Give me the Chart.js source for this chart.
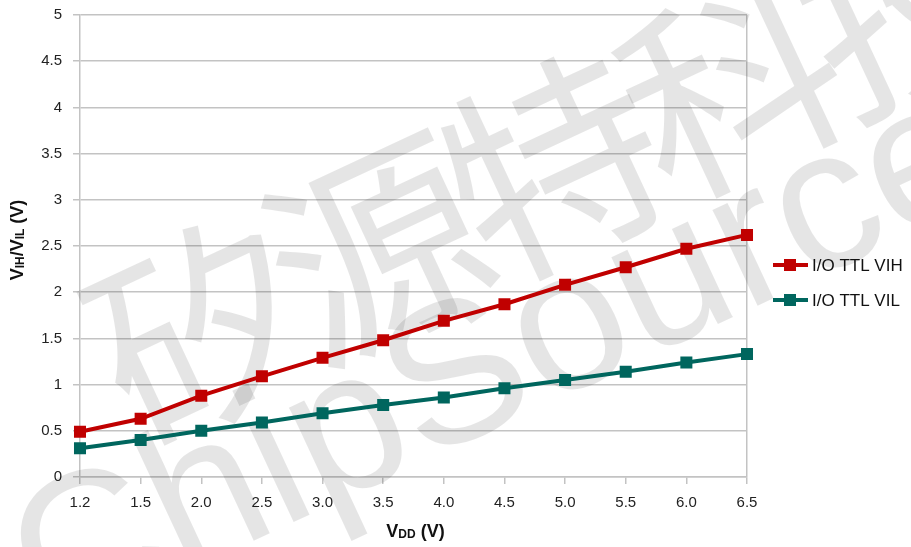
<!DOCTYPE html>
<html>
<head>
<meta charset="utf-8">
<script src="https://cdn.jsdelivr.net/npm/chart.js@4.4.1/dist/chart.umd.min.js"></script>
<style>
    html, body { margin: 0; padding: 0; background: #fff; }
    #wrap { width: 911px; height: 547px; }
</style>
</head>
<body>
<div id="wrap"><canvas id="myChart" width="911" height="547"></canvas></div>
<script>
var vdd = ["1.2", "1.5", "2.0", "2.5", "3.0", "3.5", "4.0", "4.5", "5.0", "5.5", "6.0", "6.5"];
var vih = [0.49, 0.63, 0.88, 1.09, 1.29, 1.48, 1.69, 1.87, 2.08, 2.27, 2.47, 2.62];
var vil = [0.31, 0.40, 0.50, 0.59, 0.69, 0.78, 0.86, 0.96, 1.05, 1.14, 1.24, 1.33];
var seriesNames = ["I/O TTL VIH", "I/O TTL VIL"];
var seriesColors = ["#c00000", "#00665e"];

var gridColor = "#c3c3c3";
var FONT = "'Liberation Sans', Arial, sans-serif";

// draws runs of [text, isSub] centred on (0,0) of the current transform
function drawRuns(ctx, runs, size){
    var subSize = Math.round(size * 0.66);
    var total = 0;
    runs.forEach(function(r){
        ctx.font = "bold " + (r[1] ? subSize : size) + "px " + FONT;
        total += ctx.measureText(r[0]).width;
    });
    var x = -total / 2;
    runs.forEach(function(r){
        ctx.font = "bold " + (r[1] ? subSize : size) + "px " + FONT;
        ctx.fillText(r[0], x, r[1] ? 3 : 0);
        x += ctx.measureText(r[0]).width;
    });
}

var watermark = {
    id: "watermark",
    beforeDatasetsDraw: function(chart){
        var ctx = chart.ctx;
        ctx.save();
        ctx.fillStyle = "rgba(0,0,0,0.1)";
        ctx.textAlign = "center";
        ctx.textBaseline = "middle";
        ctx.translate(545, 170);
        ctx.rotate(-25 * Math.PI / 180);
        ctx.font = "215px 'Noto Sans CJK SC'";
        ctx.letterSpacing = "-20px";
        ctx.fillText("矽源特科技", 0, 0);
        ctx.restore();

        ctx.save();
        ctx.fillStyle = "rgba(0,0,0,0.1)";
        ctx.textAlign = "center";
        ctx.textBaseline = "middle";
        ctx.translate(500, 365);
        ctx.rotate(-25 * Math.PI / 180);
        ctx.font = "200px " + FONT;
        ctx.fillText("ChipSource", 0, 0);
        ctx.restore();
    }
};

var extras = {
    id: "extras",
    afterDraw: function(chart){
        var ctx = chart.ctx;
        var area = chart.chartArea;
        ctx.save();
        ctx.fillStyle = "#111";
        ctx.textBaseline = "middle";

        // axis titles with subscripts
        ctx.save();
        ctx.translate(18, (area.top + area.bottom) / 2 - 6);
        ctx.rotate(-Math.PI / 2);
        drawRuns(ctx, [["V", false], ["IH", true], ["/V", false], ["IL", true], [" (V)", false]], 18);
        ctx.restore();

        ctx.save();
        ctx.translate((area.left + area.right) / 2 + 2, 532);
        drawRuns(ctx, [["V", false], ["DD", true], [" (V)", false]], 18);
        ctx.restore();

        // legend
        var lx = area.right + 26;
        var ly = [265, 300];
        chart.data.datasets.forEach(function(ds, i){
            ctx.strokeStyle = ds.borderColor;
            ctx.lineWidth = 4;
            ctx.beginPath();
            ctx.moveTo(lx, ly[i]);
            ctx.lineTo(lx + 35, ly[i]);
            ctx.stroke();
            ctx.fillStyle = ds.borderColor;
            ctx.fillRect(lx + 11, ly[i] - 6, 12, 12);
            ctx.fillStyle = "#111";
            ctx.font = "17px " + FONT;
            ctx.textAlign = "left";
            ctx.fillText(ds.label, lx + 39, ly[i] + 1);
        });
        ctx.restore();
    }
};

function makeSet(i, values){
    return {
        label: seriesNames[i],
        data: values,
        borderColor: seriesColors[i],
        backgroundColor: seriesColors[i],
        borderWidth: 4,
        tension: 0,
        pointStyle: "rect",
        pointRadius: 8.5,
        pointBorderWidth: 0,
        pointBackgroundColor: seriesColors[i]
    };
}

new Chart(document.getElementById("myChart"), {
    type: "line",
    data: {
        labels: vdd,
        datasets: [makeSet(0, vih), makeSet(1, vil)]
    },
    options: {
        responsive: false,
        animation: false,
        layout: { padding: { top: 15, right: 164, left: 0, bottom: 0 } },
        plugins: {
            legend: { display: false },
            tooltip: { enabled: false }
        },
        scales: {
            x: {
                offset: false,
                afterFit: function(s){
                    s.height = 70;
                    s.paddingLeft = 0;
                    s.paddingRight = 0;
                },
                grid: {
                    color: function(c){ return c.index === vdd.length - 1 ? gridColor : "rgba(0,0,0,0)"; },
                    tickColor: gridColor,
                    tickLength: 7,
                    lineWidth: 1.5
                },
                border: { color: gridColor, width: 1.5 },
                ticks: {
                    color: "#222",
                    font: { size: 15, family: FONT },
                    padding: 10,
                    maxRotation: 0
                }
            },
            y: {
                min: 0,
                max: 5,
                afterFit: function(s){
                    s.width = 80;
                    s.paddingTop = 0;
                    s.paddingBottom = 0;
                },
                grid: {
                    color: gridColor,
                    tickColor: gridColor,
                    tickLength: 7,
                    lineWidth: 1.5
                },
                border: { color: gridColor, width: 1.5 },
                ticks: {
                    stepSize: 0.5,
                    color: "#222",
                    font: { size: 15, family: FONT },
                    padding: 11,
                    callback: function(v){ return String(v); }
                }
            }
        }
    },
    plugins: [watermark, extras]
});
</script>
</body>
</html>
